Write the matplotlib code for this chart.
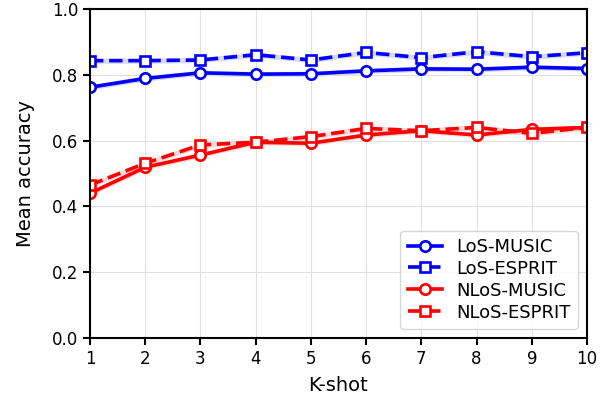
import numpy as np
import matplotlib.pyplot as plt

kshot = np.arange(1, 11)
los_music = [0.762, 0.789, 0.806, 0.802, 0.803, 0.812, 0.818, 0.817, 0.823, 0.819]
los_esprit = [0.843, 0.843, 0.845, 0.861, 0.845, 0.868, 0.852, 0.870, 0.855, 0.867]
nlos_music = [0.440, 0.519, 0.556, 0.595, 0.592, 0.617, 0.630, 0.617, 0.634, 0.640]
nlos_esprit = [0.465, 0.531, 0.587, 0.595, 0.612, 0.637, 0.630, 0.640, 0.622, 0.640]
band = 0.008

fig = plt.figure(figsize=(6.13, 4.07), dpi=100)
ax = fig.add_axes([90/613, 1-338/407, 497/613, 329/407])

def add_curve(ax, y, color, marker, ls, label):
	y = np.array(y)
	ax.fill_between(kshot, y-band, y+band, color=color, alpha=0.15, lw=0)
	ax.plot(kshot, y, color=color, marker=marker, linestyle=ls, lw=2.6, ms=7.5,
		mfc='white', mew=1.9, label=label)

add_curve(ax, los_music, 'blue', 'o', '-', 'LoS-MUSIC')
add_curve(ax, los_esprit, 'blue', 's', '--', 'LoS-ESPRIT')
add_curve(ax, nlos_music, 'red', 'o', '-', 'NLoS-MUSIC')
add_curve(ax, nlos_esprit, 'red', 's', '--', 'NLoS-ESPRIT')

ax.set_xlim(1, 10)
ax.set_ylim(0, 1)
ax.set_xticks(kshot)
ax.set_yticks(np.arange(0, 1.01, 0.2))
ax.tick_params(labelsize=12, width=1.5, length=5)
ax.grid(color='#e0e0e0', lw=0.8)
for s in ax.spines.values():
	s.set_linewidth(1.5)
ax.set_xlabel('K-shot', fontsize=14, labelpad=6)
ax.set_ylabel('Mean accuracy', fontsize=14, labelpad=12)
ax.legend(loc='lower right', fontsize=13, labelspacing=0.22, handlelength=1.9,
	borderaxespad=0.5)
fig.savefig('out.png')
